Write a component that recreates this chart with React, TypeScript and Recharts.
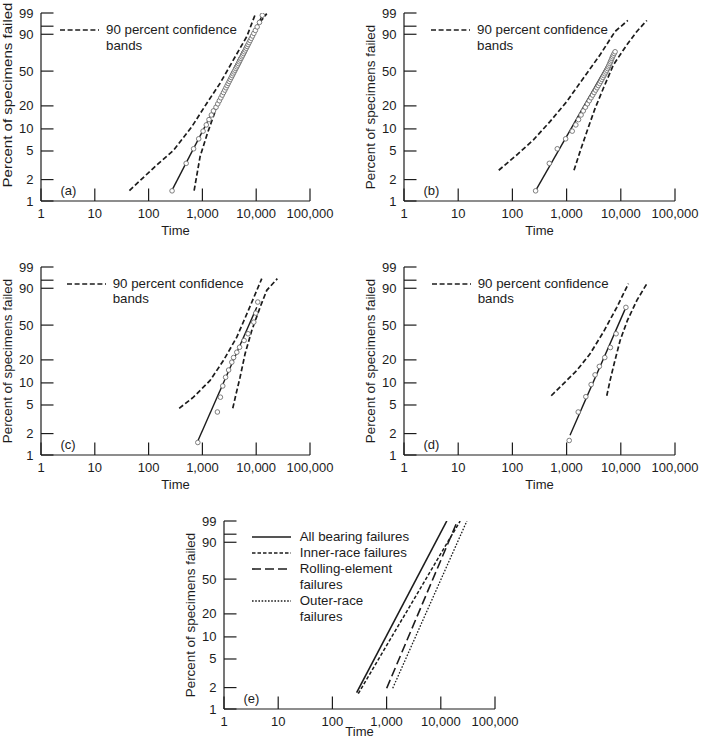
import React from "react";
import { ComposedChart, Line, Scatter, XAxis, YAxis, Label } from "recharts";

const FONT = '"Liberation Sans", Arial, Helvetica, sans-serif';
const INK = "#1c1c1c";
const RING = "#6f6f6f";

const AXIS_W = 41;
const PLOT_TOP = 13;
const PLOT_H = 188;
const BAND_DASH = "5 2.6";

// Weibull probability paper: plotted value is ln(-ln(1 - F))
const weib = (pct: number) => Math.log(-Math.log(1 - pct / 100));

const timeTicks = [1, 10, 100, 1000, 10000, 100000];
const pctTicks = [1, 2, 5, 10, 20, 50, 90, 95, 99];
const pctLabels = ["1", "2", "5", "10", "20", "50", "90", "", "99"];

// (a)
const aFailT = [
  273, 499, 686, 853, 1029, 1181, 1326, 1468, 1605, 1792, 1931, 2066, 2202,
  2337, 2473, 2608, 2743, 2880, 3017, 3156, 3297, 3439, 3583, 3729, 3878, 4030,
  4186, 4346, 4509, 4678, 4851, 5031, 5215, 5410, 5610, 5820, 6043, 6277, 6526,
  6791, 7077, 7389, 7730, 8113, 8544, 9044, 9651, 10420, 11500, 13000,
];
const aFailP = [
  1.39, 3.37, 5.36, 7.34, 9.33, 11.31, 13.29, 15.28, 17.26, 19.25, 21.23,
  23.21, 25.2, 27.18, 29.17, 31.15, 33.13, 35.12, 37.1, 39.09, 41.07, 43.06,
  45.04, 47.02, 49.01, 50.99, 52.98, 54.96, 56.94, 58.93, 60.91, 62.9, 64.88,
  66.87, 68.85, 70.83, 72.82, 74.8, 76.79, 78.77, 80.75, 82.74, 84.72, 86.71,
  88.69, 90.67, 92.66, 94.64, 96.63, 98.61,
];
const aFitT = [270, 13200];
const aFitP = [1.4, 98.7];
const aBandLT = [44, 123, 290, 636, 1208, 2133, 3767, 6680, 9530];
const aBandLP = [1.4, 2.9, 5.1, 10.7, 21.6, 37.3, 63.2, 88.2, 98.7];
const aBandRT = [702, 907, 1239, 1852, 3272, 5776, 10240, 15700];
const aBandRP = [1.4, 4.2, 8.7, 19.5, 44, 75, 94.9, 98.9];

// (b)
const bFailT = [
  268, 480, 673, 960, 1270, 1480, 1660, 1850, 2030, 2220, 2420, 2620, 2820,
  3020, 3220, 3430, 3640, 3850, 4060, 4260, 4460, 4670, 4880, 5080, 5290, 5500,
  5700, 5900, 6080, 6270, 6460, 6650, 6840, 7040, 7280, 7550, 7850,
];
const bFailP = aFailP.slice(0, 37);
const bFitT = [268, 7850];
const bFitP = [1.4, 73];
const bBandLT = [56, 120, 242, 493, 1004, 2036, 4145, 7850, 13470];
const bBandLP = [2.7, 4.4, 7.05, 12.5, 22.6, 42.3, 69.2, 92, 97.3];
const bBandRT = [1370, 1770, 2353, 3350, 4768, 7300, 12900, 19770, 30260];
const bBandRP = [2.7, 4.9, 9.1, 18.6, 32.7, 57.2, 80.4, 92, 97.3];

// (c)
const cFailT = [822, 1900, 2160, 2390, 2700, 3070, 3520, 3800, 4360, 4910, 5960, 7060, 9010, 9820, 10700];
const cFailP = [1.5, 4.0, 6.4, 9.1, 11.9, 14.8, 18.7, 21.4, 24.9, 28.6, 34.3, 40.7, 53.4, 64.1, 77];
const cFitT = [830, 10240];
const cFitP = [1.6, 71];
const cBandLT = [370, 681, 1391, 2456, 4356, 7150, 12680];
const cBandLP = [4.5, 6.4, 10.8, 19.6, 37.4, 67.4, 95.7];
const cBandRT = [3670, 4227, 5012, 6212, 8272, 11800, 15710, 24700];
const cBandRP = [4.5, 7.1, 11.9, 23.8, 44.1, 71, 88.4, 95.7];

// (d)
const dFailT = [1117, 1638, 2264, 2837, 3350, 4020, 5060, 6425, 8185, 12420];
const dFailP = [1.6, 4.0, 6.5, 9.5, 12.8, 16.5, 21.4, 28.4, 40.7, 70.9];
const dFitT = [1156, 12420];
const dFitP = [1.9, 70.9];
const dBandLT = [521, 869, 1538, 2709, 4768, 8433, 13810];
const dBandLP = [6.7, 9.7, 14.6, 23.8, 42.4, 71, 93.1];
const dBandRT = [5510, 6344, 7520, 9710, 13240, 19770, 30260];
const dBandRP = [6.7, 10.8, 17.8, 34.3, 55.4, 78.8, 93.1];

// (e)
const eAllT = [280, 12900];
const eAllP = [1.7, 99];
const eInnerT = [300, 22740];
const eInnerP = [1.65, 99];
const eRollT = [1004, 20270];
const eRollP = [1.96, 99];
const eOuterT = [1297, 30260];
const eOuterP = [1.96, 99];
const eNames = ["All bearing failures", "Inner-race failures", "Rolling-element|failures", "Outer-race|failures"];

const toPts = (t: number[], p: number[]) => t.map((v, i) => ({ t: v, y: weib(p[i]) }));

type Trace = { t: number[]; p: number[]; dash?: string; w: number };

function XTick({ x, y, payload }: any) {
  return (
    <g>
      <line x1={x} x2={x} y1={y} y2={y - 12.5} stroke={INK} strokeWidth={1.2} />
      <text x={x} y={y + 12.5} textAnchor="middle" dominantBaseline="central" fontSize={13} fontFamily={FONT} fill={INK}>
        {Number(payload.value).toLocaleString("en-US")}
      </text>
    </g>
  );
}

function YTick({ x, y, payload }: any) {
  const i = pctTicks.findIndex((p) => Math.abs(weib(p) - payload.value) < 1e-6);
  return (
    <g>
      <line x1={x} x2={x + 12.5} y1={y} y2={y} stroke={INK} strokeWidth={1.2} />
      <text x={x - 7.5} y={y} textAnchor="end" dominantBaseline="central" fontSize={13} fontFamily={FONT} fill={INK}>
        {i >= 0 ? pctLabels[i] : ""}
      </text>
    </g>
  );
}

const Ring = (p: any) => <circle cx={p.cx} cy={p.cy} r={2.3} fill="#fff" stroke={RING} strokeWidth={0.9} />;

function ConfLegend({ x, y }: { x: number; y: number }) {
  return (
    <>
      <svg style={{ position: "absolute", left: x, top: y - 2 }} width={40} height={4}>
        <line x1={0} x2={39} y1={2} y2={2} stroke={INK} strokeWidth={1.7} strokeDasharray={BAND_DASH} />
      </svg>
      <div style={{ position: "absolute", left: x + 46, top: y - 8, fontSize: 13.3, lineHeight: "15.7px", color: INK, whiteSpace: "nowrap" }}>
        90 percent confidence
        <br />
        bands
      </div>
    </>
  );
}

const eStyles = [
  { dash: undefined, w: 1.6 },
  { dash: "3.5 2", w: 1.5 },
  { dash: "9 4", w: 1.6 },
  { dash: "1.6 1.6", w: 1.3 },
];

function FailureLegend({ x, y }: { x: number; y: number }) {
  const rowH = 16.1;
  let row = 0;
  const items = eNames.map((name, k) => {
    const lines = name.split("|");
    const r = row;
    row += lines.length;
    return { lines, r, style: eStyles[k] };
  });
  return (
    <>
      {items.map((it, k) => (
        <svg key={"s" + k} style={{ position: "absolute", left: x, top: y + it.r * rowH - 2 }} width={40} height={4}>
          <line x1={0} x2={39} y1={2} y2={2} stroke={INK} strokeWidth={it.style.w} strokeDasharray={it.style.dash} />
        </svg>
      ))}
      <div style={{ position: "absolute", left: x + 48, top: y - 8, fontSize: 13.3, lineHeight: rowH + "px", color: INK, whiteSpace: "nowrap" }}>
        {items.flatMap((it) => it.lines).map((s, k) => (
          <div key={k}>{s}</div>
        ))}
      </div>
    </>
  );
}

type PanelProps = {
  left: number;
  top: number;
  plotW: number;
  height: number;
  tag: string;
  traces: Trace[];
  failT?: number[];
  failP?: number[];
  legend: React.ReactNode;
  titleLen?: number;
  titleShift?: number;
  timeDy?: number;
};

function Panel({ left, top, plotW, height, tag, traces, failT, failP, legend, titleLen, titleShift = 0, timeDy = 29.5 }: PanelProps) {
  const right = 25;
  const width = AXIS_W + plotW + right;
  const yTitle = (props: any) => {
    const { x, y, width: w, height: h } = props.viewBox;
    const cx = x + w - 34;
    const cy = y + h / 2 + titleShift;
    return (
      <text
        x={cx}
        y={cy}
        transform={`rotate(-90, ${cx}, ${cy})`}
        textAnchor="middle"
        dominantBaseline="central"
        fontSize={13.4}
        fontFamily={FONT}
        fill={INK}
        textLength={titleLen}
        lengthAdjust={titleLen ? "spacingAndGlyphs" : undefined}
      >
        Percent of specimens failed
      </text>
    );
  };
  const xTitle = (props: any) => {
    const { x, y, width: w } = props.viewBox;
    return (
      <text x={x + w / 2} y={y + timeDy} textAnchor="middle" dominantBaseline="central" fontSize={13} fontFamily={FONT} fill={INK}>
        Time
      </text>
    );
  };
  return (
    <div style={{ position: "absolute", left, top, width, height }}>
      <ComposedChart width={width} height={height} margin={{ top: PLOT_TOP, right, bottom: 0, left: 0 }}>
        <XAxis
          type="number"
          dataKey="t"
          scale="log"
          domain={[1, 100000]}
          ticks={timeTicks}
          interval={0}
          allowDataOverflow
          height={height - PLOT_TOP - PLOT_H}
          tickSize={0}
          tickMargin={0}
          tickLine={false}
          tick={<XTick />}
          axisLine={{ stroke: INK, strokeWidth: 1.2 }}
        >
          <Label content={xTitle} />
        </XAxis>
        <YAxis
          type="number"
          dataKey="y"
          domain={[weib(1), weib(99)]}
          ticks={pctTicks.map(weib)}
          interval={0}
          allowDataOverflow
          width={AXIS_W}
          tickSize={0}
          tickMargin={0}
          tickLine={false}
          tick={<YTick />}
          axisLine={{ stroke: INK, strokeWidth: 1.2 }}
        >
          <Label content={yTitle} />
        </YAxis>
        {traces.map((tr, k) => (
          <Line
            key={k}
            data={toPts(tr.t, tr.p)}
            dataKey="y"
            type="linear"
            dot={false}
            activeDot={false}
            stroke={INK}
            strokeWidth={tr.w}
            strokeDasharray={tr.dash}
            isAnimationActive={false}
          />
        ))}
        {failT && failP && <Scatter data={toPts(failT, failP)} shape={Ring} isAnimationActive={false} />}
      </ComposedChart>
      {legend}
      <div style={{ position: "absolute", left: AXIS_W + 19.5, top: PLOT_TOP + PLOT_H - 19, fontSize: 13, lineHeight: "18px", color: INK }}>
        {tag}
      </div>
    </div>
  );
}

const band = (t: number[], p: number[]): Trace => ({ t, p, dash: BAND_DASH, w: 1.7 });
const fit = (t: number[], p: number[]): Trace => ({ t, p, w: 1.4 });

export default function App() {
  return (
    <div style={{ position: "absolute", left: 0, top: 0, width: 701, height: 738, overflow: "hidden", background: "#fff", fontFamily: FONT }}>
      <Panel
        left={0}
        top={0}
        plotW={269}
        height={240}
        tag="(a)"
        traces={[band(aBandLT, aBandLP), band(aBandRT, aBandRP), fit(aFitT, aFitP)]}
        failT={aFailT}
        failP={aFailP}
        legend={<ConfLegend x={60} y={30} />}
        titleLen={185}
        titleShift={-12}
      />
      <Panel
        left={363}
        top={0}
        plotW={271}
        height={240}
        tag="(b)"
        traces={[band(bBandLT, bBandLP), band(bBandRT, bBandRP), fit(bFitT, bFitP)]}
        failT={bFailT}
        failP={bFailP}
        legend={<ConfLegend x={68} y={30} />}
      />
      <Panel
        left={0}
        top={254}
        plotW={269}
        height={240}
        tag="(c)"
        traces={[band(cBandLT, cBandLP), band(cBandRT, cBandRP), fit(cFitT, cFitP)]}
        failT={cFailT}
        failP={cFailP}
        legend={<ConfLegend x={66.7} y={29.5} />}
      />
      <Panel
        left={363}
        top={254}
        plotW={271}
        height={240}
        tag="(d)"
        traces={[band(dBandLT, dBandLP), band(dBandRT, dBandRP), fit(dFitT, dFitP)]}
        failT={dFailT}
        failP={dFailP}
        legend={<ConfLegend x={68.7} y={29.5} />}
      />
      <Panel
        left={183}
        top={508}
        plotW={271}
        height={230}
        tag="(e)"
        traces={[
          { t: eAllT, p: eAllP, ...eStyles[0] },
          { t: eInnerT, p: eInnerP, ...eStyles[1] },
          { t: eRollT, p: eRollP, ...eStyles[2] },
          { t: eOuterT, p: eOuterP, ...eStyles[3] },
        ]}
        legend={<FailureLegend x={68.7} y={28.7} />}
        timeDy={22.5}
      />
    </div>
  );
}
